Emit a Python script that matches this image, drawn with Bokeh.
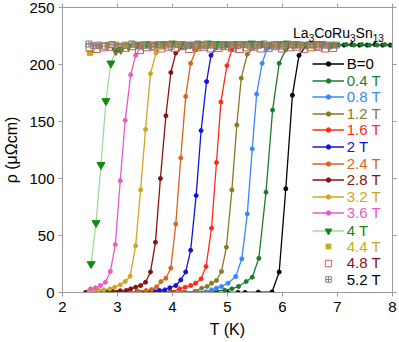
from bokeh.plotting import figure
from bokeh.models import LinearAxis, Range1d, FixedTicker, Legend, LegendItem, Label
from bokeh.embed import file_html
from bokeh.resources import INLINE

# ---------------- data ----------------
labels = ["B=0", "0.4 T", "0.8 T", "1.2 T", "1.6 T", "2 T", "2.4 T", "2.8 T",
          "3.2 T", "3.6 T", "4 T", "4.4 T", "4.8 T", "5.2 T"]

b00_T = [2.42, 2.6, 2.8, 3.0, 3.2, 3.4, 3.6, 3.8, 4.0, 4.2, 4.4, 4.6, 4.8, 5.0, 5.19, 5.32, 5.56, 5.81,
         5.94, 6.06, 6.18, 6.30, 6.42, 6.56, 6.70, 6.84, 6.98, 7.12, 7.26, 7.40, 7.54, 7.68, 7.82, 7.96]
b00_R = [0, 0, 0, 0, 0, 0, 0, 0, 0, 0, 0, 0, 0, 0, 0, 0, 0.3, 0.5,
         18, 91, 173, 208, 216, 217, 217, 216.5, 217, 217, 217.5, 217, 217, 217.5, 217, 217]

b04_T = [2.45, 2.7, 2.95, 3.2, 3.45, 3.7, 3.95, 4.2, 4.45, 4.7, 4.95, 5.08, 5.20, 5.34, 5.45, 5.57, 5.70,
         5.82, 5.94, 6.06, 6.18, 6.32, 6.46, 6.60, 6.74, 6.88, 7.02, 7.16, 7.30, 7.44, 7.58, 7.72, 7.86, 8.0]
b04_R = [0, 0, 0, 0, 0, 0, 0, 0, 0.5, 1, 2, 3.2, 5.3, 9.6, 13.4, 30, 88,
         160, 201, 213, 216, 217, 216.5, 217, 217.5, 217, 217, 217.5, 217, 217.5, 217, 217, 217.5, 217]

b08_T = [2.45, 2.7, 2.95, 3.2, 3.45, 3.7, 3.95, 4.24, 4.45, 4.61, 4.71, 4.80, 4.89, 5.01, 5.15, 5.26,
         5.36, 5.45, 5.53, 5.63, 5.72, 5.84, 5.98, 6.12, 6.26, 6.40, 6.54, 6.68, 6.82, 6.96]
b08_R = [0, 0, 0, 0, 0, 0, 0, 0, 0.3, 0.6, 2.3, 3.8, 5.3, 8.2, 14, 29.5,
         69, 126, 174, 201, 214, 216, 217, 216.5, 217, 217, 216.5, 217, 217, 216.5]

b12_T = [2.45, 2.7, 2.95, 3.2, 3.45, 3.7, 3.95, 4.2, 4.41, 4.53, 4.63, 4.71, 4.80, 4.89, 4.98, 5.08,
         5.17, 5.25, 5.36, 5.48, 5.62, 5.76, 5.90, 6.04, 6.18, 6.32, 6.46, 6.60, 6.74, 6.88]
b12_R = [0, 0, 0, 0, 0, 0, 0, 0.3, 1, 3.8, 5.3, 8.2, 10.5, 18.4, 39.7, 90,
         147, 188, 209, 215, 216.5, 217, 216, 217, 216.5, 217, 217, 216.5, 217, 217]

b16_T = [2.45, 2.7, 2.95, 3.2, 3.45, 3.7, 3.85, 3.98, 4.13, 4.23, 4.33, 4.42, 4.52, 4.61, 4.71, 4.80,
         4.88, 4.99, 5.08, 5.20, 5.34, 5.48, 5.62, 5.76, 5.90, 6.04, 6.18, 6.32, 6.46, 6.60, 6.74, 6.88]
b16_R = [0, 0, 0, 0, 0, 0, 0.2, 0.3, 3.2, 4.7, 6.1, 8.2, 12, 22.8, 56.4, 114,
         167, 199, 213, 216, 217, 216.5, 217, 217, 216.5, 217, 217, 216.5, 217, 217, 216.5, 217]

b20_T = [2.45, 2.7, 2.95, 3.2, 3.35, 3.51, 3.66, 3.76, 3.86, 3.95, 4.06, 4.15, 4.24, 4.33, 4.43, 4.52,
         4.62, 4.70, 4.79, 4.92, 5.06, 5.20, 5.34, 5.48, 5.62, 5.76, 5.90, 6.04, 6.18, 6.32, 6.46, 6.60,
         6.74, 6.88]
b20_R = [0, 0, 0, 0, 0.4, 0.9, 1.2, 1.8, 2.3, 4.1, 6.1, 11, 18, 37, 85, 142,
         185, 208, 215, 216.5, 217, 216.5, 217, 217, 216.5, 217, 217, 216.5, 217, 217, 216.5, 217,
         217, 216.5]

b24_T = [2.45, 2.7, 2.95, 3.2, 3.38, 3.52, 3.62, 3.71, 3.79, 3.88, 3.97, 4.06, 4.15, 4.24, 4.33, 4.43,
         4.56, 4.70, 4.84, 4.98, 5.12, 5.26, 5.40, 5.54, 5.68, 5.82, 5.96, 6.10, 6.24, 6.38, 6.52, 6.66,
         6.80, 6.94]
b24_R = [0, 0, 0, 0.5, 1, 1.8, 2.6, 5, 9.6, 12.5, 21.5, 60, 118, 172, 201, 213,
         216, 217, 216.5, 217, 217, 216.5, 217, 217, 216.5, 217, 217, 216.5, 217, 217, 216.5, 217,
         217, 216.5]

b28_T = [2.45, 2.60, 2.75, 2.90, 3.05, 3.16, 3.24, 3.33, 3.42, 3.51, 3.60, 3.69, 3.78, 3.88, 3.97, 4.06,
         4.18, 4.32, 4.46, 4.60, 4.74, 4.88, 5.02, 5.16, 5.30, 5.44, 5.58, 5.72, 5.86, 6.00, 6.14, 6.28,
         6.42, 6.56, 6.70, 6.84]
b28_R = [0.3, 0.8, 1, 1.2, 1.5, 1.8, 3.2, 4.7, 6.1, 9, 18, 44, 100, 155, 193, 210,
         215, 216.5, 217, 216.5, 217, 217, 216.5, 217, 217, 216.5, 217, 217, 216.5, 217, 217, 216.5,
         217, 217, 216.5, 217]

b32_T = [2.49, 2.58, 2.66, 2.75, 2.86, 2.95, 3.05, 3.14, 3.23, 3.33, 3.42, 3.51, 3.60, 3.70, 3.80, 3.92,
         4.06, 4.20, 4.34, 4.48, 4.62, 4.76, 4.90, 5.04, 5.18, 5.32, 5.46, 5.60, 5.74, 5.88, 6.02, 6.16,
         6.30, 6.44, 6.58, 6.72, 6.86]
b32_R = [0.9, 1.5, 1.8, 2.3, 3.2, 4.7, 6.8, 9.6, 14.3, 41, 90, 143, 192, 210, 215, 216.5,
         217, 216.5, 217, 217, 216.5, 217, 217, 216.5, 217, 217, 216.5, 217, 217, 216.5, 217, 217,
         216.5, 217, 217, 216.5, 217]

b36_T = [2.51, 2.60, 2.69, 2.78, 2.87, 2.96, 3.05, 3.14, 3.24, 3.33, 3.42, 3.54, 3.68, 3.82, 3.96, 4.10,
         4.24, 4.38, 4.52, 4.66, 4.80, 4.94, 5.08, 5.22, 5.36, 5.50, 5.64, 5.78, 5.92, 6.06, 6.20, 6.34,
         6.48, 6.62, 6.76, 6.90]
b36_R = [3.2, 4.1, 6.1, 9, 18.4, 42, 98, 151, 191, 208, 215, 216.5, 217, 216.5, 217, 217,
         216.5, 217, 217, 216.5, 217, 217, 216.5, 217, 217, 216.5, 217, 217, 216.5, 217, 217, 216.5,
         217, 217, 216.5, 217]

b40_T = [2.52, 2.61, 2.70, 2.79, 2.88, 2.97, 3.06, 3.20, 3.36, 3.52, 3.68, 3.84, 4.00, 4.16, 4.32, 4.48,
         4.64, 4.80, 4.96, 5.12, 5.28, 5.44, 5.60, 5.76, 5.92, 6.08, 6.24, 6.40, 6.56, 6.72, 6.88]
b40_R = [25, 61, 112, 168, 201, 212, 213, 216, 217.5, 218, 217.5, 218, 218.5, 218, 217.5, 218,
         218.5, 218, 217.5, 218, 218, 218.5, 218, 217.5, 218, 218.5, 218, 217.5, 218, 218, 217.5]

b44_T = [2.50, 2.66, 2.82, 2.98, 3.14, 3.30, 3.46, 3.62, 3.78, 3.94, 4.10, 4.26, 4.42, 4.58, 4.74, 4.90,
         5.06, 5.22, 5.38, 5.54, 5.70, 5.86, 6.02, 6.18, 6.34, 6.50, 6.66, 6.82]
b44_R = [210, 216, 217, 217.5, 216.5, 217, 218, 217, 216.5, 217.5, 217, 216.5, 217, 218, 217, 216.5,
         217.5, 217, 216.5, 217, 217.5, 217, 216.5, 217, 217.5, 216.5, 217, 217]

b48_T = [2.50, 2.62, 2.75, 2.88, 3.01, 3.14, 3.27, 3.40, 3.53, 3.66, 3.79, 3.92, 4.05, 4.18, 4.31, 4.44,
         4.57, 4.70, 4.83, 4.96, 5.09, 5.22, 5.35, 5.48, 5.61, 5.74, 5.87, 6.00, 6.13, 6.26, 6.39, 6.52,
         6.65, 6.78, 6.91]
b48_R = [215, 214, 215.5, 216, 214, 215, 216.5, 213, 215.5, 216, 214.5, 216, 215, 216.5, 214, 215.5,
         216, 214.5, 215, 216.5, 215, 214, 215.5, 216, 214.5, 215, 216.5, 214.5, 215.5, 216, 214, 215.5,
         216, 214.5, 215]

b52_T = [2.48, 2.56, 2.66, 2.78, 2.90, 3.02, 3.14, 3.26, 3.38, 3.50, 3.62, 3.74, 3.86, 3.98, 4.10, 4.22,
         4.34, 4.46, 4.58, 4.70, 4.82, 4.94, 5.06, 5.18, 5.30, 5.42, 5.54, 5.66, 5.78, 5.90, 6.02, 6.14,
         6.26, 6.38, 6.50, 6.62, 6.74, 6.86, 6.98]
b52_R = [218, 216.5, 217, 216, 217.5, 216, 217, 218, 216.5, 217, 216, 217.5, 217, 216, 217.5, 216.5,
         217, 218, 216.5, 217, 216, 217.5, 217, 216.5, 217.5, 216, 217, 218, 216.5, 217, 216, 217.5,
         217, 216.5, 217.5, 216, 217, 216.5, 217]

# ---------------- styling ----------------
# (label, T, R, marker, marker color, line color, text color, size, filled, has line, legend glyph height)
series = [
    (labels[0], b00_T, b00_R, "circle", "#000000", "#000000", "#000000", 4, True, True, 11),
    (labels[1], b04_T, b04_R, "circle", "#1e7b2e", "#1e7b2e", "#1e7b2e", 4, True, True, 11),
    (labels[2], b08_T, b08_R, "circle", "#3a86ff", "#3a86ff", "#3a86ff", 4, True, True, 11),
    (labels[3], b12_T, b12_R, "circle", "#8a7a26", "#8a7a26", "#8a7a26", 4, True, True, 11),
    (labels[4], b16_T, b16_R, "circle", "#ff2a1a", "#ff2a1a", "#ff2a1a", 4, True, True, 11),
    (labels[5], b20_T, b20_R, "circle", "#1414d8", "#1414d8", "#1414d8", 4, True, True, 11),
    (labels[6], b24_T, b24_R, "circle", "#d8661a", "#d8661a", "#d8661a", 4, True, True, 11),
    (labels[7], b28_T, b28_R, "circle", "#8b1212", "#8b1212", "#8b1212", 4, True, True, 11),
    (labels[8], b32_T, b32_R, "circle", "#d0a520", "#d0a520", "#d0a520", 4, True, True, 11),
    (labels[9], b36_T, b36_R, "circle", "#e85ac8", "#e85ac8", "#e85ac8", 4, True, True, 11),
    (labels[10], b40_T, b40_R, "inverted_triangle", "#128a12", "#a0d8a0", "#128a12", 8, True, True, 17),
    (labels[11], b44_T, b44_R, "square", "#ccaa11", None, "#ccaa11", 5, True, False, 12),
    (labels[12], b48_T, b48_R, "square", "#c06060", None, "#8b1212", 8, False, False, 16),
    (labels[13], b52_T, b52_R, "square_cross", "#808080", None, "#000000", 6, False, False, 14),
]

FONT = "Liberation Sans"
AX = "#9a9a9a"

p = figure(width=399, height=342, x_range=Range1d(2, 8), y_range=Range1d(0, 250),
           output_backend="svg", toolbar_location=None,
           min_border_left=62, min_border_right=7, min_border_top=7, min_border_bottom=50,
           x_axis_label="T (K)", y_axis_label="ρ (μΩcm)")
p.xgrid.visible = False
p.ygrid.visible = False
p.outline_line_color = None
p.background_fill_color = "white"
p.border_fill_color = "white"

xt = FixedTicker(ticks=[2, 3, 4, 5, 6, 7, 8])
yt = FixedTicker(ticks=[0, 50, 100, 150, 200, 250])
p.add_layout(LinearAxis(ticker=xt), "above")
p.add_layout(LinearAxis(ticker=yt), "right")
p.xaxis.ticker = xt
p.yaxis.ticker = yt

for ax in p.axis:
    ax.axis_line_color = AX
    ax.major_tick_line_color = AX
    ax.major_tick_out = 4
    ax.major_tick_in = 0
    ax.minor_tick_out = 0
    ax.minor_tick_in = 0
    ax.major_label_text_font = FONT
    ax.major_label_text_font_size = "15px"
    ax.major_label_text_color = "black"
    ax.axis_label_text_font = FONT
    ax.axis_label_text_font_size = "16px"
    ax.axis_label_text_font_style = "normal"
    ax.axis_label_text_color = "black"

for ax in (p.above[0], p.right[0]):
    ax.major_label_text_font_size = "1px"
    ax.major_label_text_color = None
    ax.major_label_standoff = 0
p.below[0].major_label_standoff = 5
p.below[0].axis_label_standoff = 6
p.left[0].major_label_standoff = 4
p.left[0].axis_label_standoff = 6

row0 = 64.0
row_step = 16.6
frame_bottom = 292.0
frame_left = 62.0

for i, (lab, T, R, mk, mc, lc, tc, sz, filled, has_line, gh) in enumerate(series):
    rs = []
    if has_line:
        rs.append(p.line(T, R, line_color=lc, line_width=1.3))
    if filled:
        rs.append(p.scatter(T, R, marker=mk, size=sz, fill_color=mc, line_color=mc, line_width=1))
    else:
        rs.append(p.scatter(T, R, marker=mk, size=sz, fill_color=None, line_color=mc, line_width=1))
    cy = row0 + i * row_step
    h = max(gh, 16)
    lg = Legend(items=[LegendItem(label=lab, renderers=rs)],
                location=(311.7 - frame_left, frame_bottom - cy - h / 2),
                padding=0, margin=0, spacing=0,
                border_line_color=None, background_fill_alpha=0,
                glyph_width=32, glyph_height=gh, label_height=16, label_standoff=3,
                label_text_font=FONT, label_text_font_size="15px", label_text_color=tc)
    p.add_layout(lg)

# compound name with subscripts
title_parts = [("La", 6.191, 228.0, "14px"), ("3", 6.475, 223.0, "10px"),
               ("CoRu", 6.576, 228.0, "14px"), ("3", 7.227, 223.0, "10px"),
               ("Sn", 7.329, 228.0, "14px"), ("13", 7.640, 223.0, "10px")]
for txt, x, y, fs in title_parts:
    p.add_layout(Label(x=x, y=y, text=txt, text_font=FONT, text_font_size=fs,
                       text_baseline="alphabetic", text_color="black"))

open("out.html", "w").write(file_html(p, INLINE))
